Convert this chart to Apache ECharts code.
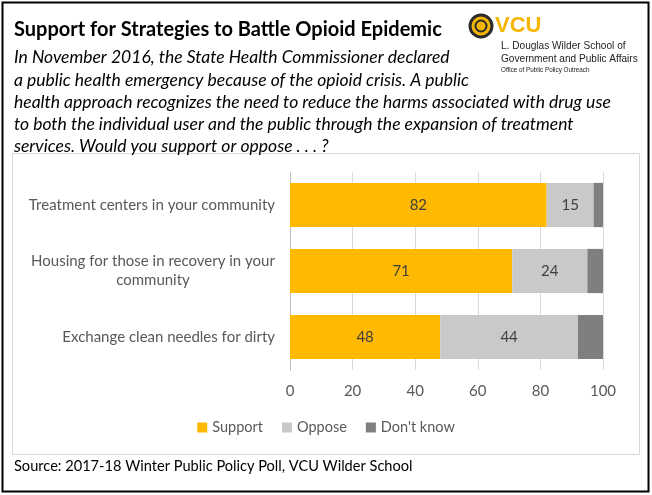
<!DOCTYPE html>
<html><head><meta charset="utf-8">
<script src="https://cdn.jsdelivr.net/npm/echarts@6/dist/echarts.min.js"></script>
<style>html,body{margin:0;padding:0;background:#fff}#c{width:652px;height:495px}</style>
</head><body><div id="c"></div>
<script>
const categories = ["Treatment centers in your community", "Housing for those in recovery in your\ncommunity", "Exchange clean needles for dirty"];
const support = [82, 71, 48];
const oppose = [15, 24, 44];
const dontKnow = [3, 5, 8];
const seriesNames = ["Support", "Oppose", "Don't know"];
const xTicks = [0, 20, 40, 60, 80, 100];

const F = 'Lato, "Open Sans", sans-serif';
const CAT_FONT = '15px ' + F;
const chart = echarts.init(document.getElementById('c'), null, {renderer: 'canvas'});
const subLines = [
  "In November 2016, the State Health Commissioner declared",
  "a public health emergency because of the opioid crisis. A public",
  "health approach recognizes the need to reduce the harms associated with drug use",
  "to both the individual user and the public through the expansion of treatment",
  "services. Would you support or oppose . . . ?"
];
const subY = [57, 80, 102, 124, 146];
const A = '"Liberation Sans", Arial, sans-serif';
const graphics = [
  {type:'rect', shape:{x:2.5,y:2.5,width:646,height:489}, style:{fill:'none', stroke:'#000', lineWidth:2}, silent:true, z:-1},
  {type:'rect', shape:{x:12.5,y:153.5,width:627,height:301}, style:{fill:'none', stroke:'#d9d9d9', lineWidth:1}, silent:true, z:-1},
  {type:'text', x:14, y:30, style:{text:'Support for Strategies to Battle Opioid Epidemic', font:'bold 20px '+F, fill:'#000', textVerticalAlign:'middle'}},
  {type:'text', x:14, y:466, style:{text:'Source: 2017-18 Winter Public Policy Poll, VCU Wilder School', font:'14.6px '+F, fill:'#000', textVerticalAlign:'middle'}},
  // logo
  {type:'circle', shape:{cx:481, cy:26, r:11}, style:{fill:'#f2b600', stroke:'#2a2a2a', lineWidth:3}},
  {type:'circle', shape:{cx:481, cy:26, r:5.5}, style:{fill:'none', stroke:'#2a2a2a', lineWidth:2}},
  {type:'text', x:495, y:26, style:{text:'VCU', font:'bold 22px '+A, fill:'#f8b500', textVerticalAlign:'middle'}},
  {type:'text', x:501, y:46, style:{text:'L. Douglas Wilder School of', font:'10.1px '+A, fill:'#222', textVerticalAlign:'middle'}},
  {type:'text', x:501, y:59, style:{text:'Government and Public Affairs', font:'10.1px '+A, fill:'#222', textVerticalAlign:'middle'}},
  {type:'text', x:501, y:70, style:{text:'Office of Public Policy Outreach', font:'6.3px '+A, fill:'#222', textVerticalAlign:'middle'}}
];
subLines.forEach((t,i)=>graphics.push({type:'text', x:14, y:subY[i], style:{text:t, font:'italic 17.5px '+F, fill:'#000', textVerticalAlign:'middle'}}));

// measure wrapped label lines so that continuation lines are centred under the first line
const ctx = document.createElement('canvas').getContext('2d');
ctx.font = CAT_FONT;
let maxW = 0;
categories.forEach(v=>{ const ps=v.split('\n'); if(ps.length>1) ps.forEach(p=>{maxW=Math.max(maxW, ctx.measureText(p).width);}); });
function catFormatter(v){
  const parts = v.split('\n');
  if (parts.length === 1) return v;
  return parts.map(p=>'{c|' + p + '}').join('\n');
}

const lbl = {show:true, position:'inside', color:'#404040', fontSize:15, fontFamily:F};
chart.setOption({
  animation:false,
  graphic: graphics,
  legend: {data: seriesNames, bottom: 55, left:'center', icon:'rect', itemWidth:10, itemHeight:10, itemGap:19,
    textStyle:{color:'#595959', fontSize:14.5, fontFamily:F}},
  grid: {left:290, right:49, top:172, bottom:125, containLabel:false},
  xAxis: {type:'value', min:0, max:100, interval:20,
    axisLabel:{color:'#595959', fontSize:15, fontFamily:F, margin:14, formatter:v=>xTicks.includes(v)?String(v):''},
    splitLine:{lineStyle:{color:'#d9d9d9'}}, axisLine:{show:false}, axisTick:{show:false}},
  yAxis: {type:'category', data:categories, inverse:true,
    axisLabel:{color:'#595959', fontSize:15, fontFamily:F, margin:15, lineHeight:19, align:'right',
      formatter:catFormatter,
      rich:{c:{width:Math.ceil(maxW), align:'center', color:'#595959', fontSize:15, fontFamily:F, lineHeight:19}}},
    axisLine:{lineStyle:{color:'#bfbfbf'}}, axisTick:{show:false}},
  series: [
    {name:seriesNames[0], type:'bar', stack:'a', data:support, barCategoryGap:'33%', itemStyle:{color:'#FFB900'}, label:lbl},
    {name:seriesNames[1], type:'bar', stack:'a', data:oppose, itemStyle:{color:'#C9C9C9'}, label:lbl},
    {name:seriesNames[2], type:'bar', stack:'a', data:dontKnow, itemStyle:{color:'#7F7F7F'}, label:{show:false}}
  ]
});
</script></body></html>
